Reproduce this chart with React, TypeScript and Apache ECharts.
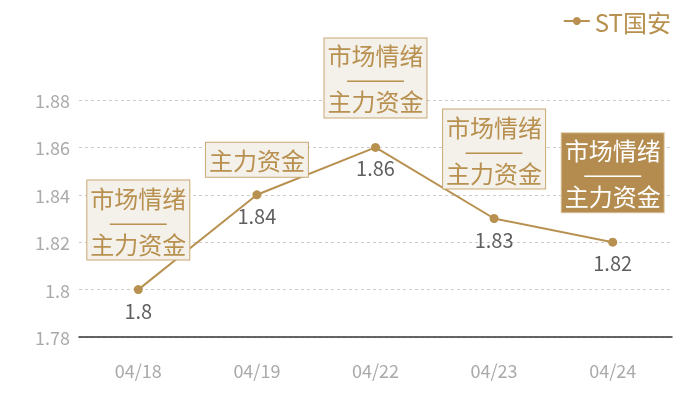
import React, { useEffect, useRef } from 'react';
import * as echarts from 'echarts';

const categories = ['04/18', '04/19', '04/22', '04/23', '04/24'];
const prices = [1.8, 1.84, 1.86, 1.83, 1.82];
const notes = [
    '市场情绪\n———\n主力资金',
    '主力资金',
    '市场情绪\n———\n主力资金',
    '市场情绪\n———\n主力资金',
    '市场情绪\n———\n主力资金',
];
const highlighted = [false, false, false, false, true];
const seriesName = 'ST国安';

const GOLD = '#b8904f';
const FONT = '"Noto Sans CJK SC", "Noto Sans", sans-serif';

const App: React.FC = () => {
    const chartRef = useRef<HTMLDivElement>(null);

    useEffect(() => {
        if (!chartRef.current) return;
        const chart = echarts.init(chartRef.current, undefined, { renderer: 'svg' });

        // annotation boxes sit above the points; the last one is filled
        const noteData = prices.map((v, i) => {
            const multi = notes[i].includes('\n');
            const hot = highlighted[i];
            return {
                value: v,
                label: {
                    distance: multi ? 30 : 18,
                    padding: multi ? [5, 3, 5, 3] : [5, 3, 6, 3],
                    color: hot ? '#ffffff' : GOLD,
                    backgroundColor: hot ? '#b58c4f' : '#f4f0ea',
                    borderColor: hot ? '#dcc7a3' : '#c9a874',
                },
            };
        });

        const option: echarts.EChartsOption = {
            animation: false,
            textStyle: { fontFamily: FONT },
            legend: {
                data: [seriesName],
                right: 24,
                top: 4,
                itemWidth: 26,
                itemHeight: 10,
                textStyle: { color: GOLD, fontSize: 24, fontFamily: FONT },
            },
            grid: { left: 79, right: 28, top: 100, bottom: 63 },
            xAxis: {
                type: 'category',
                data: categories,
                boundaryGap: true,
                axisLine: { lineStyle: { color: '#333', width: 1.5 } },
                axisTick: { show: false },
                axisLabel: { color: '#aaa', fontSize: 18, margin: 24, fontFamily: FONT },
            },
            yAxis: {
                type: 'value',
                min: 1.78,
                max: 1.88,
                interval: 0.02,
                axisLine: { show: false },
                axisTick: { show: false },
                axisLabel: { color: '#aaa', fontSize: 18, margin: 9, fontFamily: FONT },
                splitLine: { lineStyle: { color: '#ccc', type: [3, 3] } },
            },
            series: [
                {
                    name: seriesName,
                    type: 'line',
                    data: prices,
                    symbol: 'circle',
                    symbolSize: 9,
                    itemStyle: { color: GOLD },
                    lineStyle: { color: GOLD, width: 2 },
                    label: {
                        show: true,
                        position: 'bottom',
                        distance: 6,
                        color: '#5f5f5f',
                        fontSize: 20,
                        fontFamily: FONT,
                    },
                    z: 3,
                },
                {
                    name: 'notes',
                    type: 'line',
                    data: noteData,
                    symbol: 'circle',
                    symbolSize: 0,
                    itemStyle: { color: 'transparent' },
                    lineStyle: { opacity: 0 },
                    silent: true,
                    label: {
                        show: true,
                        position: 'top',
                        formatter: (p: any) => notes[p.dataIndex],
                        fontSize: 24,
                        lineHeight: 23,
                        borderWidth: 1,
                        align: 'center',
                        fontFamily: FONT,
                    },
                    z: 4,
                },
            ],
        };

        chart.setOption(option);

        return () => {
            chart.dispose();
        };
    }, []);

    return (
        <div
            ref={chartRef}
            style={{ position: 'fixed', left: 0, top: 0, width: 700, height: 400 }}
        />
    );
};

export default App;
